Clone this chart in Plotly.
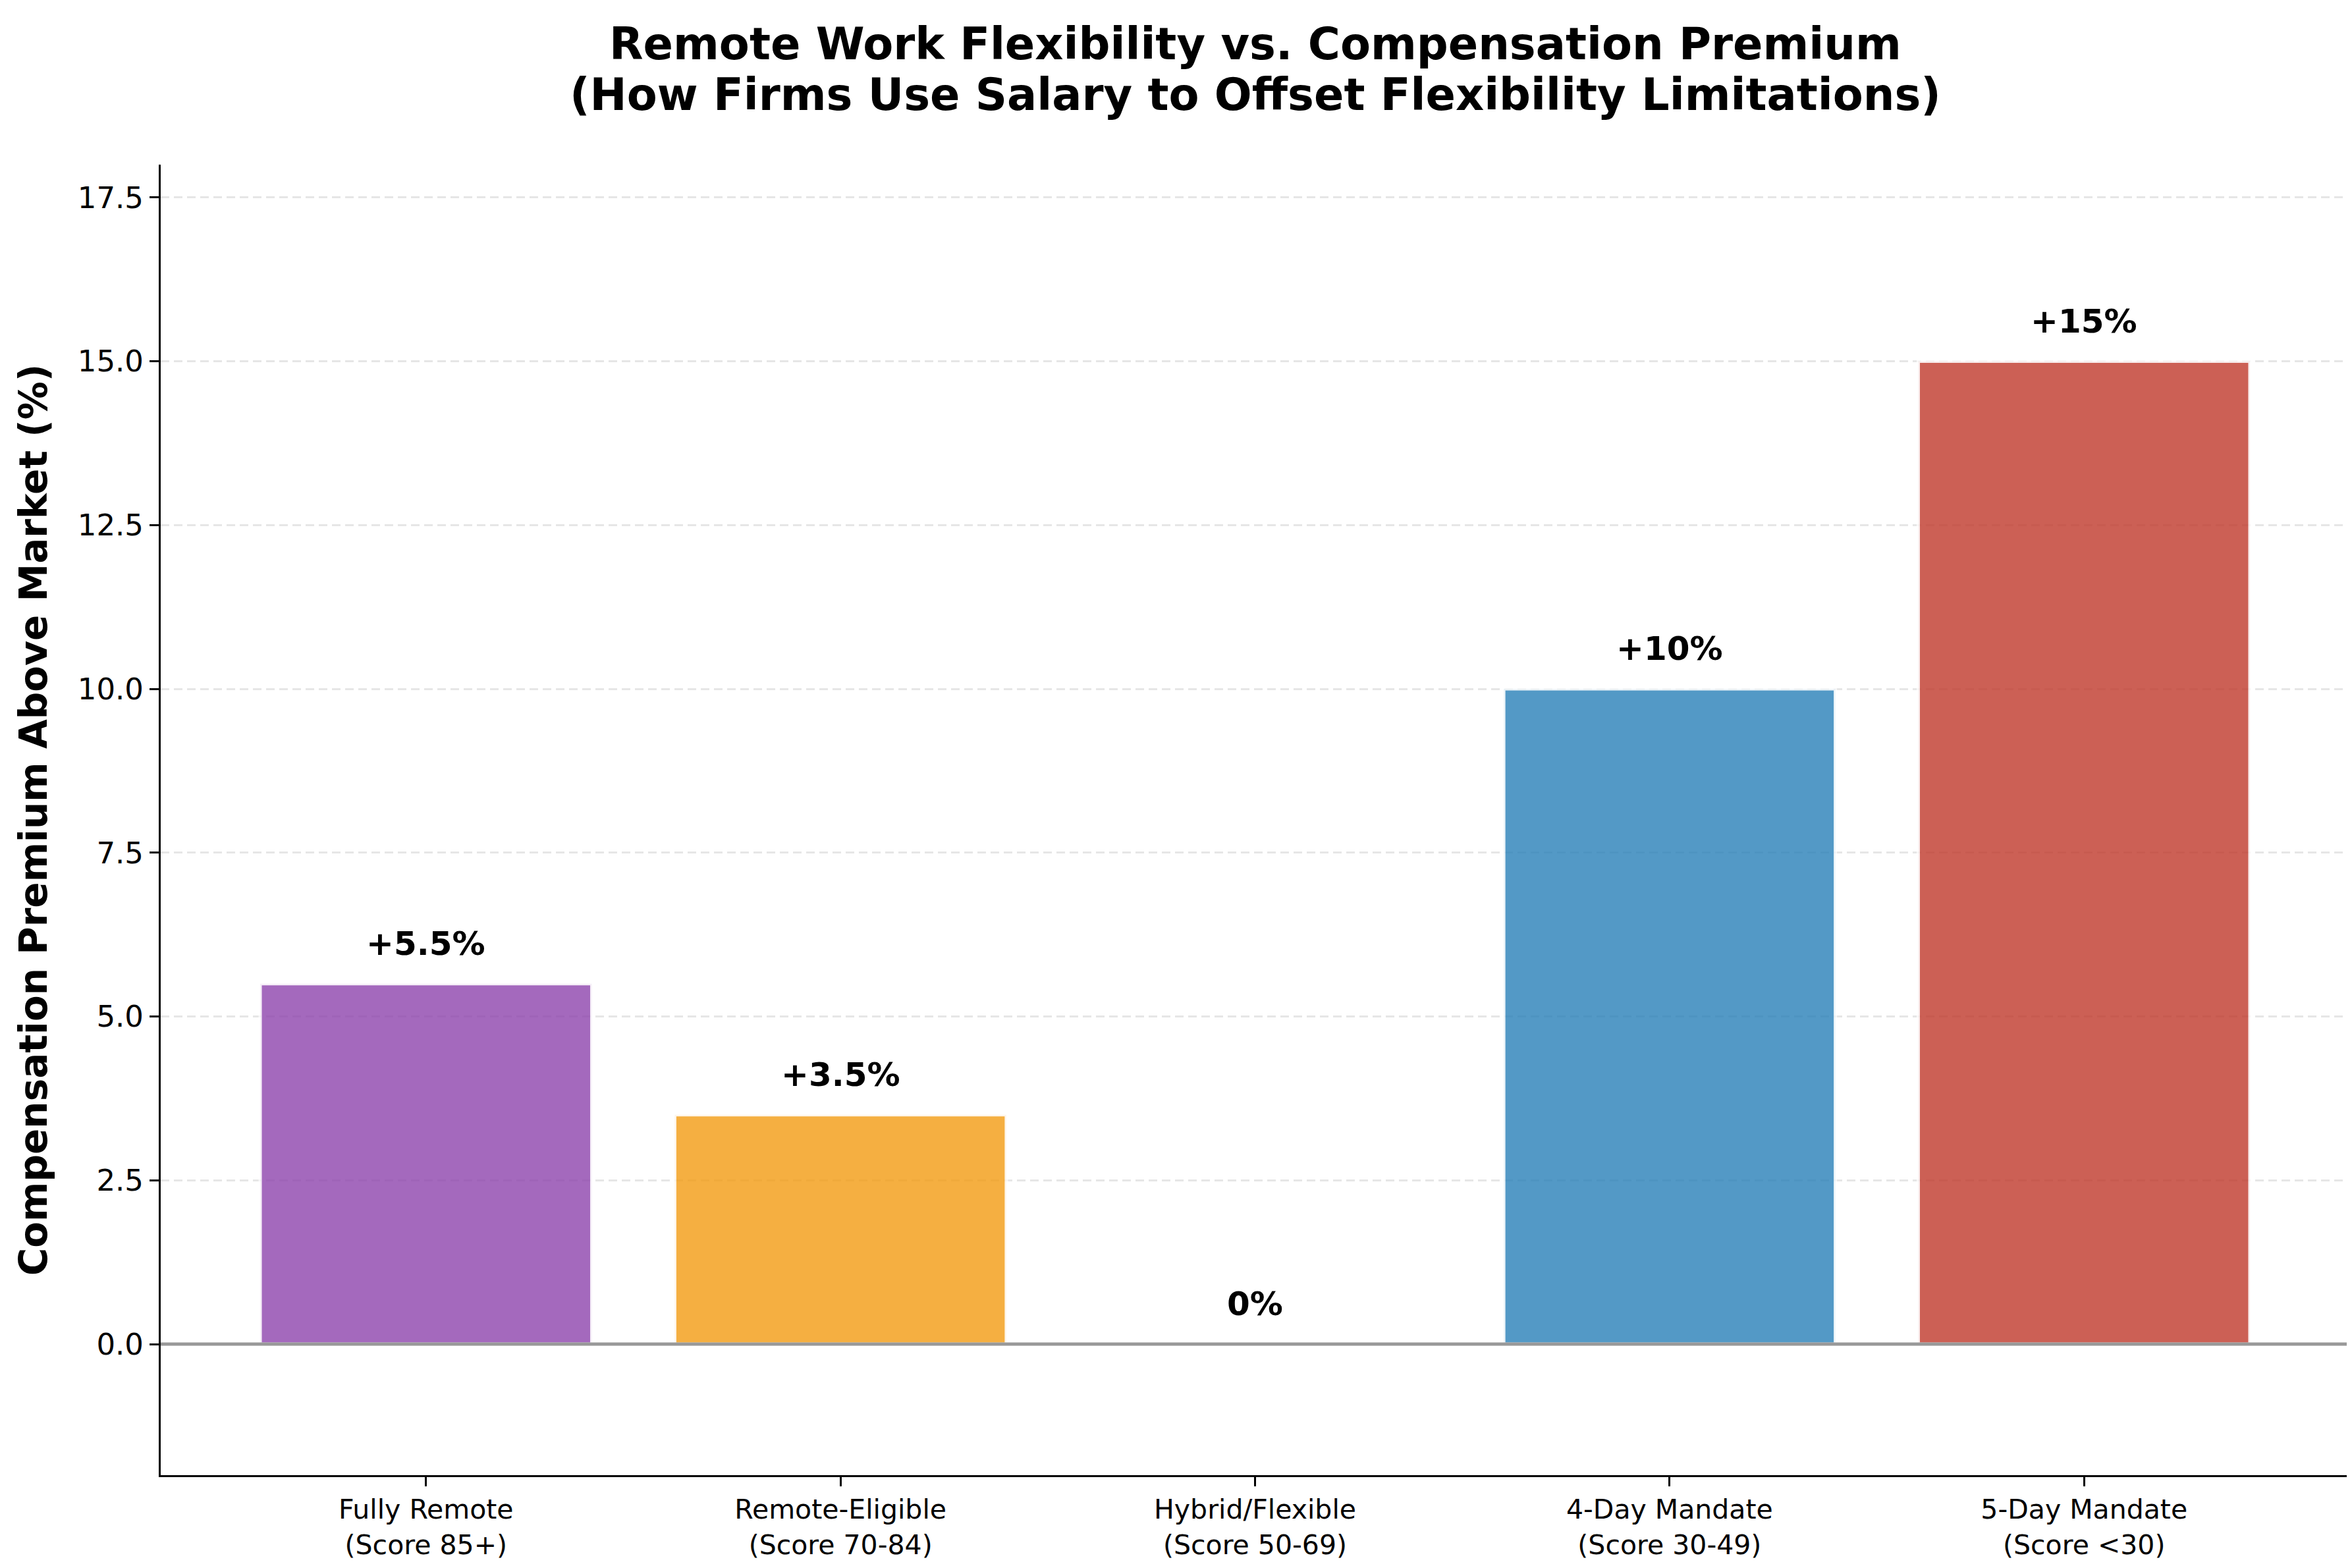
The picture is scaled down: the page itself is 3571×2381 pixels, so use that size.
import plotly.graph_objects as go

# ---------------------------------------------------------------------------
# Data
# ---------------------------------------------------------------------------
CATEGORIES = [
    "Fully Remote<br>(Score 85+)",
    "Remote-Eligible<br>(Score 70-84)",
    "Hybrid/Flexible<br>(Score 50-69)",
    "4-Day Mandate<br>(Score 30-49)",
    "5-Day Mandate<br>(Score <30)",
]
PREMIUM = [5.5, 3.5, 0, 10, 15]
BAR_COLORS = ["#8e44ad", "#f39c12", "#7f8c8d", "#2980b9", "#c0392b"]
Y_TICKS = [0, 2.5, 5, 7.5, 10, 12.5, 15, 17.5]
TITLE_LINES = [
    "Remote Work Flexibility vs. Compensation Premium",
    "(How Firms Use Salary to Offset Flexibility Limitations)",
]

W, H = 3571, 2381
MARGIN = dict(l=236, r=12, t=242, b=149)
FONT = "DejaVu Sans"


def label_for(v):
    return f"+{v:g}%" if v > 0 else f"{v:g}%"


fig = go.Figure()
fig.add_trace(go.Bar(
    x=list(range(len(CATEGORIES))),
    y=PREMIUM,
    width=0.8,
    marker=dict(color=BAR_COLORS, opacity=0.8,
                line=dict(color="rgba(255,255,255,0.9)", width=5)),
    hoverinfo="skip",
))

# value labels above bars
for i, v in enumerate(PREMIUM):
    fig.add_annotation(
        x=i, y=v + 0.3, text=f"<b>{label_for(v)}</b>", showarrow=False,
        xanchor="center", yanchor="bottom",
        font=dict(family=FONT, size=50, color="black"),
    )

# title, one annotation per line to keep matplotlib-like line spacing
plot_h = H - MARGIN["t"] - MARGIN["b"]
for line, ypx in zip(TITLE_LINES, [59, 136]):
    fig.add_annotation(
        xref="paper", yref="paper", x=0.5, y=1 + (MARGIN["t"] - ypx) / plot_h,
        xanchor="center", yanchor="middle", showarrow=False,
        text=f"<b>{line}</b>",
        font=dict(family=FONT, size=67, color="black"),
    )

# zero reference line
fig.add_shape(type="line", xref="paper", x0=0, x1=1, yref="y", y0=0, y1=0,
              line=dict(color="#999999", width=5), layer="above")

fig.update_layout(
    width=W, height=H,
    paper_bgcolor="white", plot_bgcolor="white",
    font=dict(family=FONT, size=45, color="black"),
    showlegend=False,
    bargap=0.2,
    margin=MARGIN,
    xaxis=dict(
        range=[-0.64, 4.64],
        tickmode="array", tickvals=list(range(len(CATEGORIES))),
        ticktext=CATEGORIES,
        tickfont=dict(family=FONT, size=41),
        showline=True, linecolor="black", linewidth=3,
        ticks="outside", ticklen=14, tickwidth=3, tickcolor="black",
        showgrid=False, zeroline=False,
    ),
    yaxis=dict(
        range=[-2, 18],
        tickmode="array", tickvals=Y_TICKS,
        ticktext=[f"{t:.1f}" for t in Y_TICKS],
        tickfont=dict(family=FONT, size=45),
        title=dict(text="<b>Compensation Premium Above Market (%)</b>",
                   font=dict(family=FONT, size=58), standoff=28),
        showline=True, linecolor="black", linewidth=3,
        ticks="outside", ticklen=14, tickwidth=3, tickcolor="black",
        showgrid=True, gridcolor="#e6e6e6", gridwidth=3,
        griddash="13px,7px",
        zeroline=False,
    ),
)

fig.write_html("out.html")
